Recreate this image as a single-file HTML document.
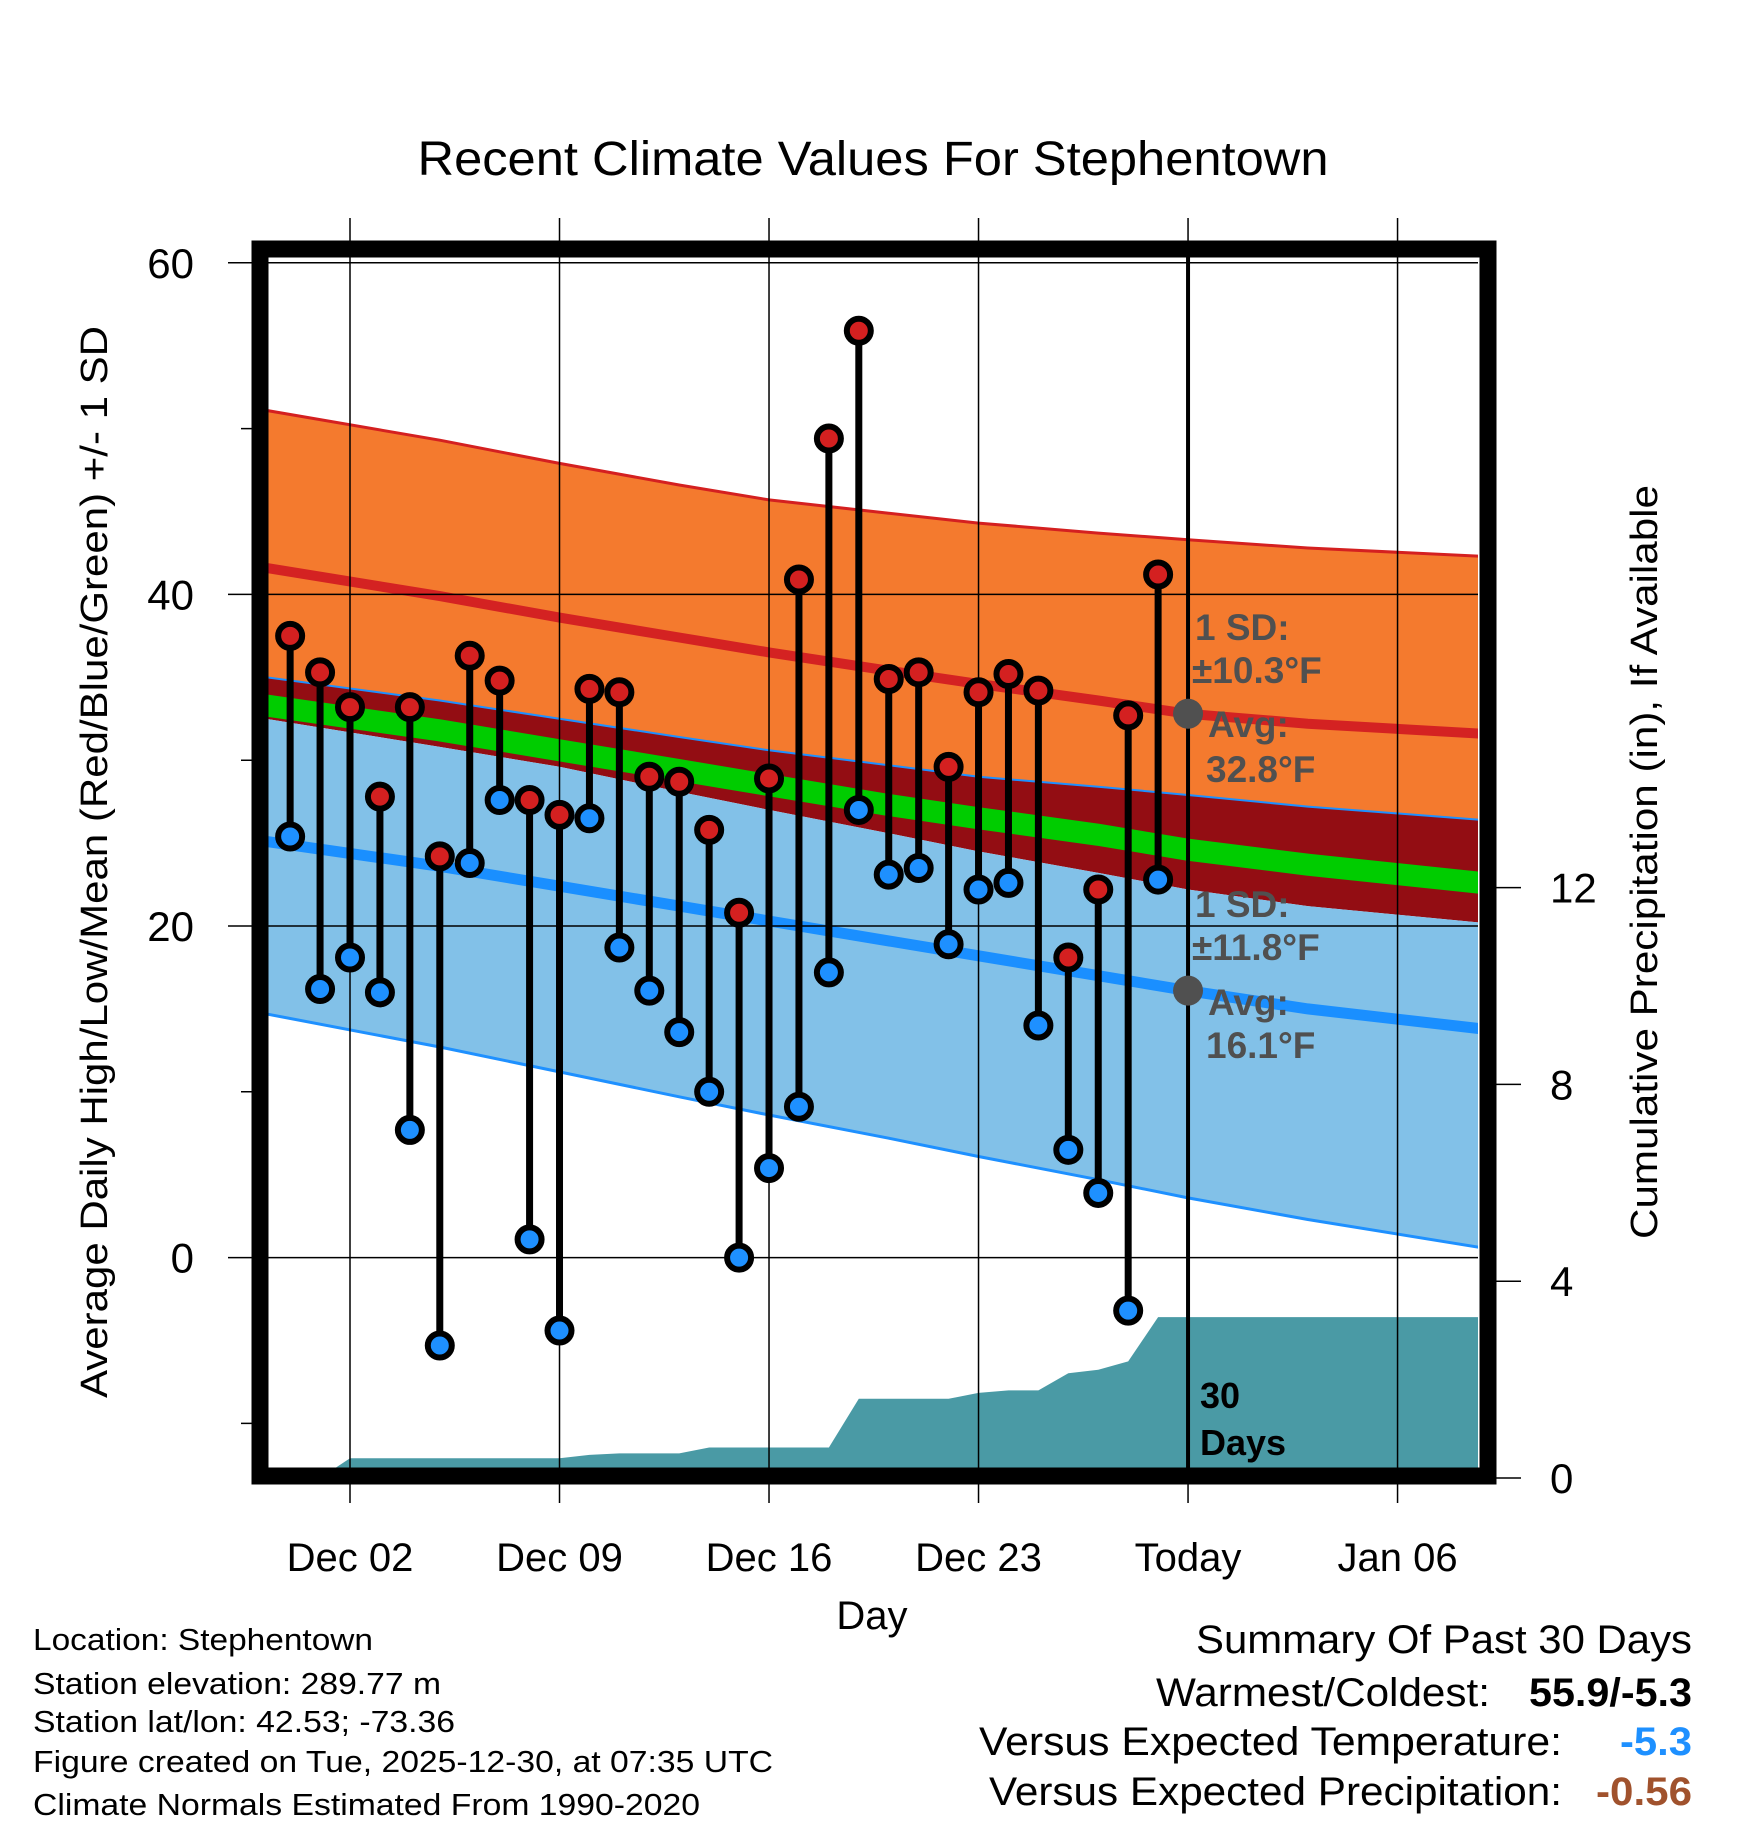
<!DOCTYPE html>
<html><head><meta charset="utf-8"><style>
html,body{margin:0;padding:0;background:#fff}
svg{display:block;font-family:"Liberation Sans",Arial,sans-serif}
</style></head><body>
<svg id="chart" width="1748" height="1828" viewBox="0 0 1748 1828" xmlns="http://www.w3.org/2000/svg">
<defs><clipPath id="plotClip"><rect x="268" y="257" width="1210" height="1211"/></clipPath></defs>
<g id="bands" clip-path="url(#plotClip)"></g>
<g id="grid"></g>
<g id="marks" clip-path="url(#plotClip)"></g>
<g id="labels"></g>
</svg>
<script>
// ---- data ----
const dayOffsets = [-1,0,1,2,3,4,5,6,7,8,9,10,11,12,13,14,15,16,17,18,19,20,21,22,23,24,25,26,27,28]; // days from Dec 1
const highs = [37.5,35.3,33.2,27.8,33.2,24.2,36.3,34.8,27.6,26.7,34.3,34.1,29.0,28.7,25.8,20.8,28.9,40.9,49.4,55.9,34.9,35.3,29.6,34.1,35.2,34.2,18.1,22.2,32.7,41.2];
const lows = [25.4,16.2,18.1,16.0,7.7,-5.3,23.8,27.6,1.1,-4.4,26.5,18.7,16.1,13.6,10.0,0.0,5.4,9.1,17.2,27.0,23.1,23.5,18.9,22.2,22.6,14.0,6.5,3.9,-3.2,22.8];
const precipCum = [0,0,0.4,0.4,0.4,0.4,0.4,0.4,0.4,0.4,0.47,0.5,0.5,0.5,0.62,0.62,0.62,0.62,0.62,1.61,1.61,1.61,1.61,1.73,1.78,1.78,2.13,2.2,2.37,3.27];
const normDays = [-1.8,4,8,12,15,19,22,26,29,33,38.8];
const upperSD = [51.1,49.3,47.9,46.6,45.7,44.9,44.3,43.7,43.3,42.8,42.3];
const meanHigh = [41.6,39.9,38.6,37.4,36.5,35.4,34.6,33.6,32.8,32.2,31.6];
const bandTop = [35.0,33.6,32.5,31.4,30.6,29.7,29.0,28.4,27.9,27.2,26.4];
const greenMean = [33.3,31.8,30.6,29.4,28.5,27.3,26.5,25.5,24.6,23.7,22.6];
const bandBottom = [32.5,30.8,29.6,28.1,27.0,25.6,24.5,23.2,22.2,21.2,20.2];
const meanLow = [25.1,23.6,22.4,21.2,20.3,19.1,18.2,17.0,16.1,15.0,13.8];
const lowerSD = [14.7,12.7,11.2,9.7,8.6,7.2,6.1,4.7,3.6,2.3,0.6];
const tempTicks = [60,40,20,0];
const tempMinor = [50,30,10,-10];
const precipTicks = [0,4,8,12];
const dateTickDays = [1,8,15,22,29,36];
const dateTickLabels = ["Dec 02","Dec 09","Dec 16","Dec 23","Today","Jan 06"];
const todayDay = 29;
const todayHighAvg = 32.8, todayLowAvg = 16.1;

// ---- scales ----
const X = d => 320.07 + 29.93*d;
const Y = t => 1257.6 - 16.58*t;
const P = p => 1478 - 49.2*p;
const NS = "http://www.w3.org/2000/svg";
function mk(tag, attrs, parent){const e=document.createElementNS(NS,tag);for(const k in attrs)e.setAttribute(k,attrs[k]);parent.appendChild(e);return e;}
const bands=document.getElementById('bands'), grid=document.getElementById('grid'), marks=document.getElementById('marks'), labels=document.getElementById('labels');
function linePts(arr){return normDays.map((d,i)=>X(d).toFixed(1)+','+Y(arr[i]).toFixed(1));}
function areaPts(top,bot){return linePts(top).concat(linePts(bot).reverse()).join(' ');}

let e;
e=mk('polygon',{points:areaPts(upperSD,bandTop),fill:'#f47a2e'},bands);


e=mk('polygon',{points:areaPts(bandTop,bandBottom),fill:'#930d13'},bands);


e=mk('polygon',{points:areaPts(bandBottom,lowerSD),fill:'#82c1e8'},bands);


e=mk('polyline',{points:linePts(upperSD).join(' '),fill:'none',stroke:'#d42020','stroke-width':3},bands);


e=mk('polyline',{points:linePts(meanHigh).join(' '),fill:'none',stroke:'#d42222','stroke-width':10},bands);


e=mk('polyline',{points:linePts(bandTop).join(' '),fill:'none',stroke:'#1e90ff','stroke-width':2},bands);


e=mk('polyline',{points:linePts(greenMean).join(' '),fill:'none',stroke:'#00cc00','stroke-width':22},bands);


e=mk('polyline',{points:linePts(meanLow).join(' '),fill:'none',stroke:'#1a8fff','stroke-width':11},bands);


e=mk('polyline',{points:linePts(lowerSD).join(' '),fill:'none',stroke:'#1e90ff','stroke-width':3},bands);



// precip area
let pp=[X(normDays[0]).toFixed(1)+','+P(0)];
dayOffsets.forEach((d,i)=>pp.push(X(d).toFixed(1)+','+P(precipCum[i]).toFixed(1)));
pp.push(X(normDays[normDays.length-1]).toFixed(1)+','+P(precipCum[precipCum.length-1]).toFixed(1));
pp.push(X(normDays[normDays.length-1]).toFixed(1)+','+P(0));
e=mk('polygon',{points:pp.join(' '),fill:'#4a9aa5'},bands);



// grid
tempTicks.forEach(t=>{
  e=mk('line',{x1:228,x2:1478,y1:Y(t),y2:Y(t),stroke:'#000','stroke-width':1.5},grid);
  
  
  e=mk('text',{x:194,y:Y(t)+15,'text-anchor':'end','font-size':42},labels);
  e.textContent=t;
  
  
});
tempMinor.forEach(t=>{
  e=mk('line',{x1:241,x2:260,y1:Y(t),y2:Y(t),stroke:'#000','stroke-width':1.5},grid);
  
  
});
dateTickDays.forEach((d,i)=>{
  e=mk('line',{x1:X(d),x2:X(d),y1:218,y2:1503,stroke:'#000','stroke-width':1.5},grid);
  
  
  e=mk('text',{x:X(d),y:1571,'text-anchor':'middle','font-size':40},labels);
  e.textContent=dateTickLabels[i];
  
  
});
precipTicks.forEach(p=>{
  e=mk('line',{x1:1496,x2:1521,y1:P(p),y2:P(p),stroke:'#000','stroke-width':1.5},grid);
  
  
  e=mk('text',{x:1550,y:P(p)+15,'text-anchor':'start','font-size':42},labels);
  e.textContent=p;
  
  
});

// today line
e=mk('line',{x1:X(todayDay),x2:X(todayDay),y1:257,y2:1470,stroke:'#000','stroke-width':4},marks);



// stems and markers
dayOffsets.forEach((d,i)=>{
  e=mk('line',{x1:X(d),x2:X(d),y1:Y(highs[i]),y2:Y(lows[i]),stroke:'#000','stroke-width':7},marks);
  
  
});
dayOffsets.forEach((d,i)=>{
  e=mk('circle',{cx:X(d),cy:Y(highs[i]),r:12,fill:'#d42020',stroke:'#000','stroke-width':6},marks);
  
  
  e=mk('circle',{cx:X(d),cy:Y(lows[i]),r:12,fill:'#1e90ff',stroke:'#000','stroke-width':6},marks);
  
  
});
e=mk('circle',{cx:X(todayDay),cy:Y(todayHighAvg),r:15,fill:'#505050'},marks);


e=mk('circle',{cx:X(todayDay),cy:Y(todayLowAvg),r:15,fill:'#505050'},marks);


</script>
<script>
const L=document.getElementById('labels');
L.insertAdjacentHTML('beforeend',`
<rect x="260" y="249" width="1228" height="1227" fill="none" stroke="#000" stroke-width="17"/>
<text x="873" y="175" text-anchor="middle" font-size="48" textLength="911" lengthAdjust="spacingAndGlyphs">Recent Climate Values For Stephentown</text>
<text transform="translate(107,862) rotate(-90)" text-anchor="middle" font-size="38" textLength="1072" lengthAdjust="spacingAndGlyphs">Average Daily High/Low/Mean (Red/Blue/Green) +/- 1 SD</text>
<text transform="translate(1657,862) rotate(-90)" text-anchor="middle" font-size="38" textLength="754" lengthAdjust="spacingAndGlyphs">Cumulative Precipitation (in), If Available</text>
<text x="872" y="1629" text-anchor="middle" font-size="40">Day</text>
<g fill="#505050" font-weight="bold" font-size="37">
<text x="1195" y="640">1 SD:</text>
<text x="1192" y="683">±10.3°F</text>
<text x="1208" y="737">Avg:</text>
<text x="1206" y="782">32.8°F</text>
<text x="1195" y="917">1 SD:</text>
<text x="1192" y="960">±11.8°F</text>
<text x="1208" y="1015">Avg:</text>
<text x="1206" y="1058">16.1°F</text>
</g>
<text x="1200" y="1408" font-size="36" font-weight="bold">30</text>
<text x="1200" y="1455" font-size="36" font-weight="bold">Days</text>
<g font-size="31">
<text x="33" y="1650" textLength="340" lengthAdjust="spacingAndGlyphs">Location: Stephentown</text>
<text x="33" y="1694" textLength="408" lengthAdjust="spacingAndGlyphs">Station elevation: 289.77 m</text>
<text x="33" y="1732" textLength="422" lengthAdjust="spacingAndGlyphs">Station lat/lon: 42.53; -73.36</text>
<text x="33" y="1772" textLength="740" lengthAdjust="spacingAndGlyphs">Figure created on Tue, 2025-12-30, at 07:35 UTC</text>
<text x="33" y="1815" textLength="667" lengthAdjust="spacingAndGlyphs">Climate Normals Estimated From 1990-2020</text>
</g>
<g font-size="40">
<text x="1692" y="1653" text-anchor="end" textLength="496" lengthAdjust="spacingAndGlyphs">Summary Of Past 30 Days</text>
<text x="1490" y="1706" text-anchor="end" textLength="334" lengthAdjust="spacingAndGlyphs">Warmest/Coldest:</text>
<text x="1692" y="1706" text-anchor="end" font-weight="bold" textLength="163" lengthAdjust="spacingAndGlyphs">55.9/-5.3</text>
<text x="1562" y="1755" text-anchor="end" textLength="583" lengthAdjust="spacingAndGlyphs">Versus Expected Temperature:</text>
<text x="1692" y="1755" text-anchor="end" font-weight="bold" fill="#1e90ff" textLength="72" lengthAdjust="spacingAndGlyphs">-5.3</text>
<text x="1562" y="1805" text-anchor="end" textLength="573" lengthAdjust="spacingAndGlyphs">Versus Expected Precipitation:</text>
<text x="1692" y="1805" text-anchor="end" font-weight="bold" fill="#a0522d" textLength="96" lengthAdjust="spacingAndGlyphs">-0.56</text>
</g>`);
</script>
</body></html>
